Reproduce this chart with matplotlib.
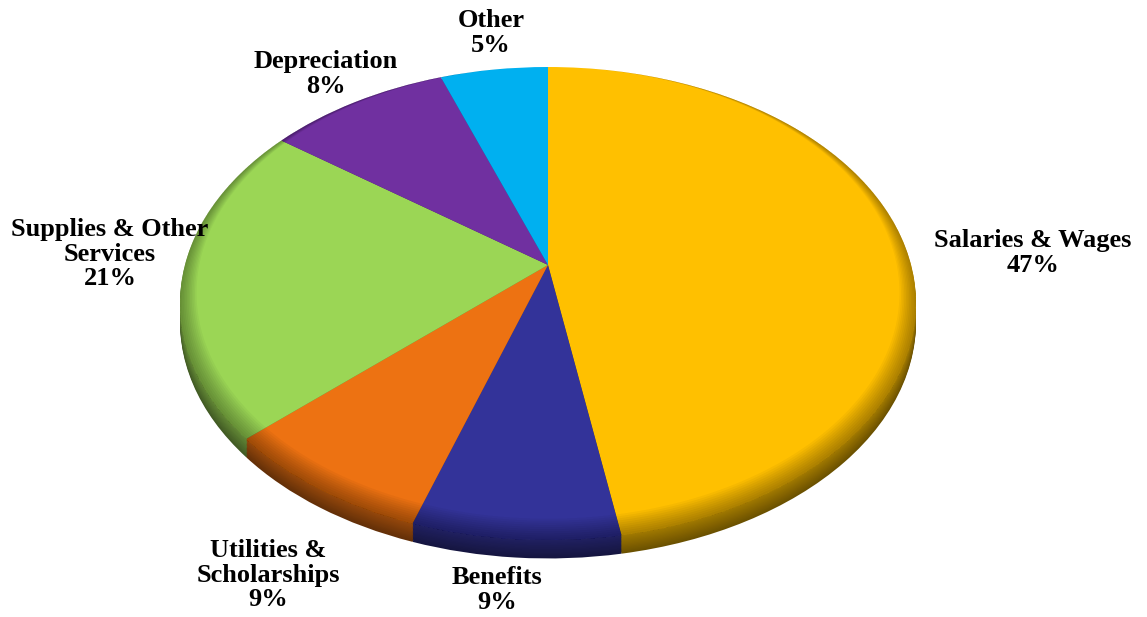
import numpy as np
import matplotlib.pyplot as plt
from matplotlib.path import Path
from matplotlib.patches import PathPatch
from matplotlib.colors import to_rgb

# slice data (percent), clockwise from 12 o'clock
categories = ['Salaries & Wages', 'Benefits', 'Utilities & Scholarships',
              'Supplies & Other Services', 'Depreciation', 'Other']
values = [46.8, 9.2, 9.3, 21.8, 8.2, 4.7]
pct_labels = ['47%', '9%', '9%', '21%', '8%', '5%']
colors = ['#FFC000', '#333399', '#ED7212', '#9BD655', '#7030A0', '#00B0F0']

# label anchors in data units (ellipse radius = 1)
label_pos = [(1.318, 0.214), (-0.139, -1.211), (-0.761, -1.148),
             (-1.190, 0.209), (-0.603, 0.970), (-0.155, 1.144)]
label_text = ['Salaries & Wages\n47%', 'Benefits\n9%', 'Utilities &\nScholarships\n9%',
              'Supplies & Other\nServices\n21%', 'Depreciation\n8%', 'Other\n5%']

apex_y = 0.163    # where slices meet (perspective shift)
depth = 0.078     # thickness of the pie side
n_side = 14
n_bevel = 10


def shade(c, f):
    r, g, b = to_rgb(c)
    return (min(r * f, 1), min(g * f, 1), min(b * f, 1))


def draw_pie(ax, cols, dy, z):
    wedges, _ = ax.pie(values, colors=cols, startangle=90, counterclock=False,
                       center=(0, dy), radius=1.0,
                       wedgeprops=dict(linewidth=0))
    for w in wedges:
        p = w.get_path()
        v = p.vertices.copy()
        near = np.hypot(v[:, 0], v[:, 1] - dy) < 1e-9
        v[near] = (0, apex_y + dy)
        w.set_visible(False)
        ax.add_patch(PathPatch(Path(v, p.codes), facecolor=w.get_facecolor(),
                               edgecolor='none', zorder=z))


def ring(r_in):
    # outer rim of the top face minus a smaller ellipse touching it at the far edge
    t = np.linspace(0, 2 * np.pi, 300)
    outer = np.column_stack([np.cos(t), np.sin(t)])
    inner = np.column_stack([r_in * np.cos(t[::-1]), r_in * np.sin(t[::-1]) + (1 - r_in)])
    return Path.make_compound_path(Path(outer, closed=True), Path(inner, closed=True))


fig = plt.figure(figsize=(11.47, 6.17), dpi=100)
ax = fig.add_axes([0, 0, 1, 1])

# side of the pie, dark at the bottom getting lighter towards the top face
for i, off in enumerate(np.linspace(depth, 0.006, n_side)):
    f = 0.42 + 0.2 * i / (n_side - 1)
    draw_pie(ax, [shade(c, f) for c in colors], -off, 1 + i)

# top face
draw_pie(ax, colors, 0, 30)

# soft darkening along the near rim
for j, r in enumerate(np.linspace(0.995, 0.955, n_bevel)):
    ax.add_patch(PathPatch(ring(r), facecolor='black', edgecolor='none',
                           alpha=0.035, zorder=40))

for (x, y), t in zip(label_pos, label_text):
    ax.text(x, y, t, ha='center', va='center', multialignment='center',
            fontsize=19, fontweight='bold', family='Liberation Serif',
            linespacing=1.1, color='black', zorder=60)

ax.set_aspect('auto')
ax.set_xlim(-548 / 368, 599 / 368)
ax.set_ylim(-313.5 / 236.5, 303.5 / 236.5)
ax.axis('off')

fig.savefig('out.png', dpi=100)
